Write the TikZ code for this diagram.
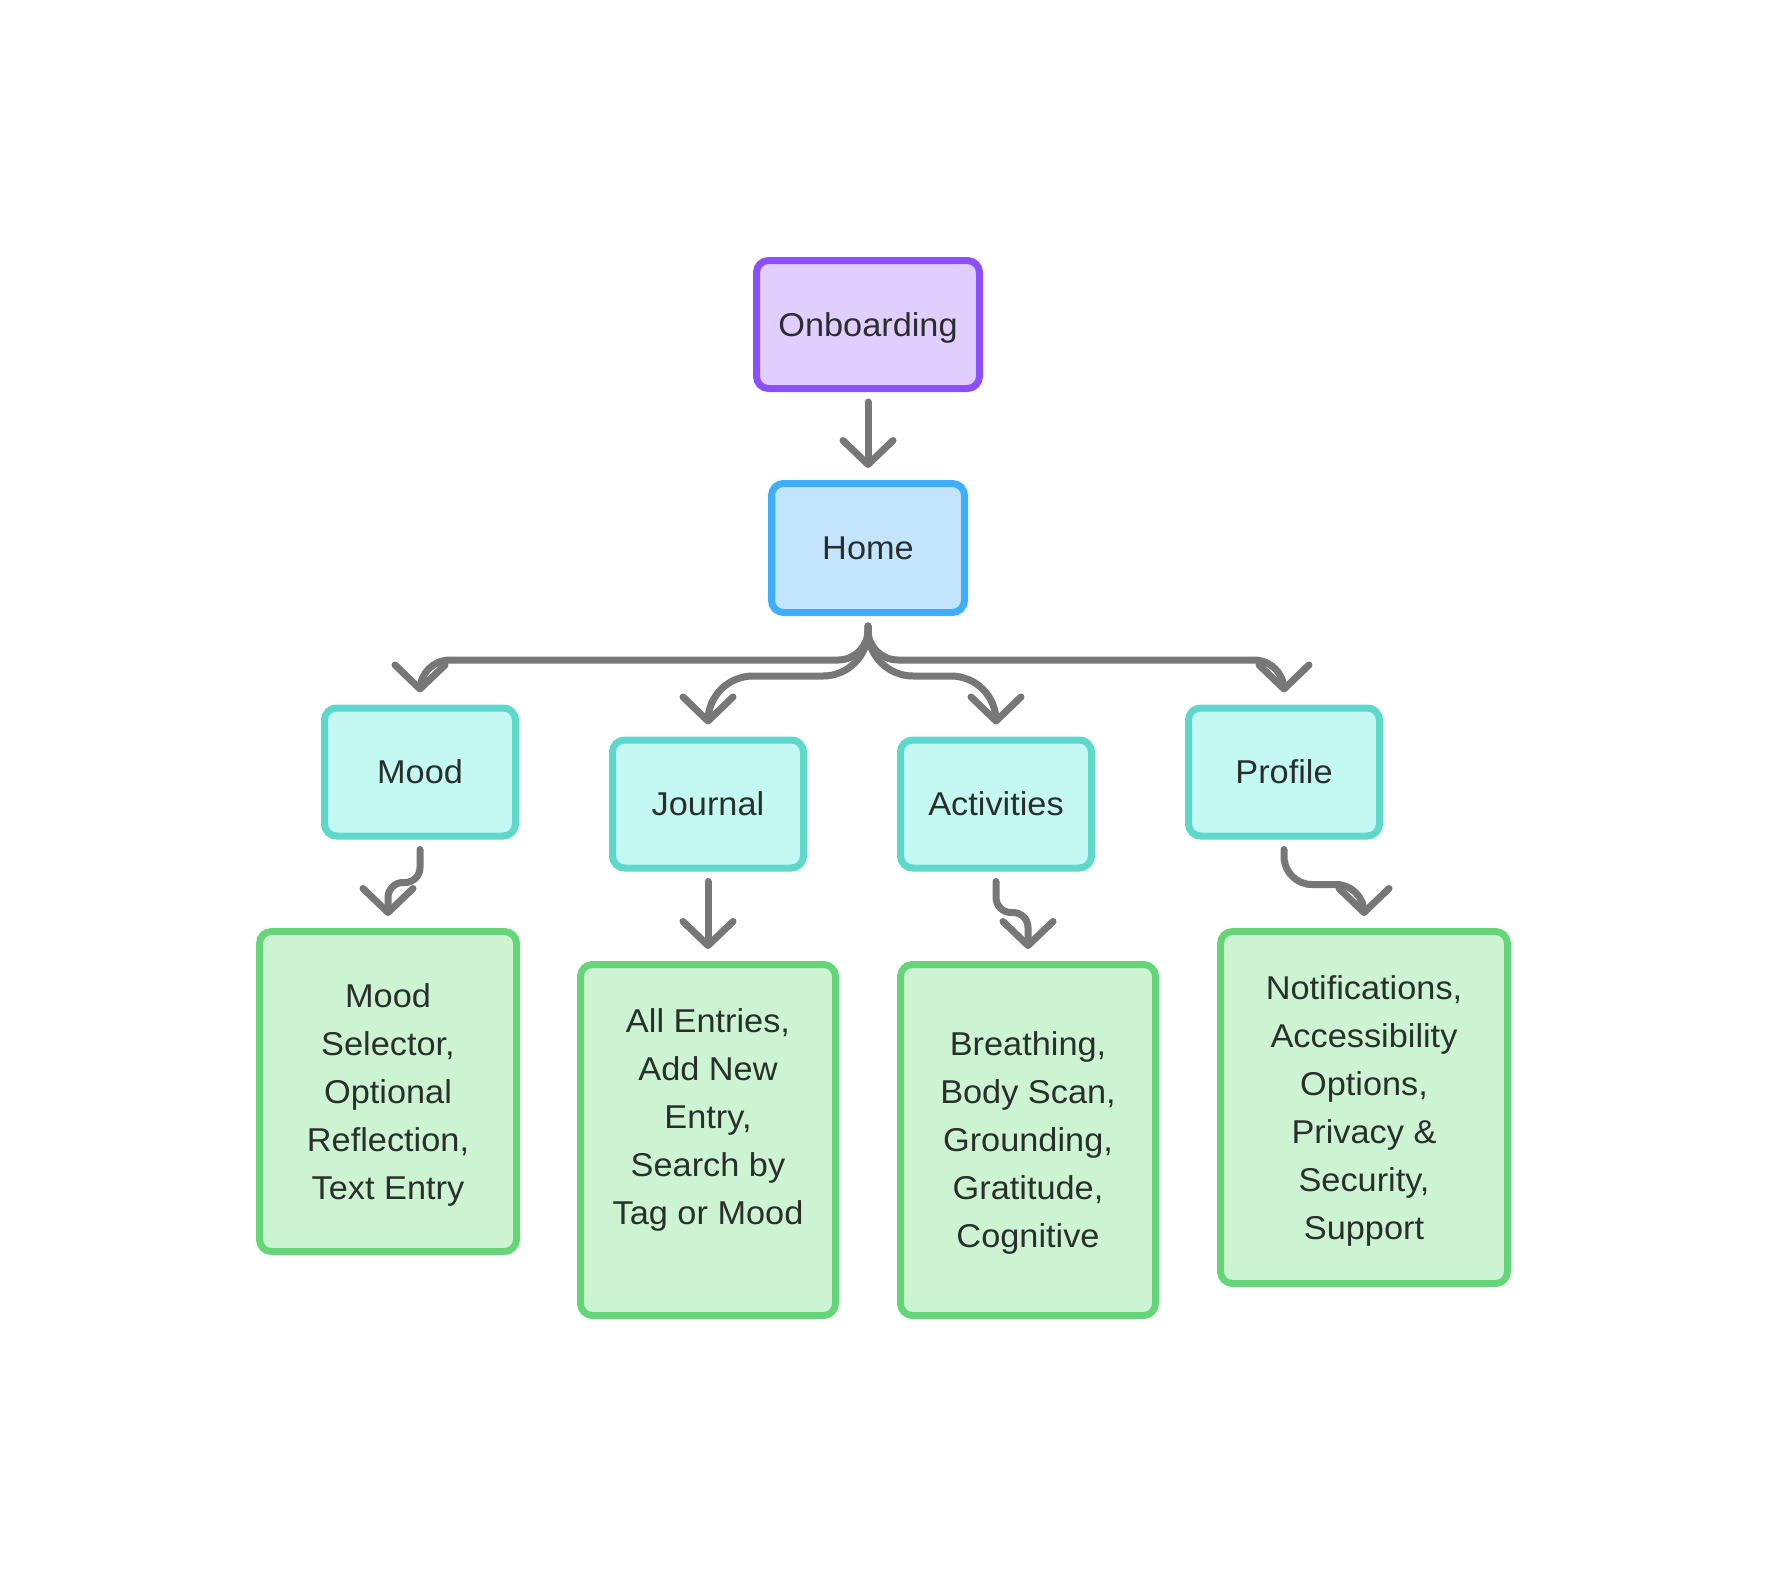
\documentclass[tikz,border=0pt]{standalone}
\usepackage{fontspec}
\setmainfont{Liberation Sans}[FakeStretch=1.04]
\usetikzlibrary{arrows.meta}

\definecolor{linkgray}{HTML}{777777}
\definecolor{txtdark}{HTML}{2B2F2B}
\definecolor{onbline}{HTML}{8B50FC}
\definecolor{onbfill}{HTML}{DFCEFF}
\definecolor{homeline}{HTML}{3EAEFB}
\definecolor{homefill}{HTML}{C2E4FD}
\definecolor{tabline}{HTML}{5DD8CB}
\definecolor{tabfill}{HTML}{C4F8F2}
\definecolor{featline}{HTML}{66D577}
\definecolor{featfill}{HTML}{CCF4D3}

\begin{document}
\begin{tikzpicture}[x=1pt, y=-1pt,
    label/.style={text=txtdark, font=\fontsize{33}{48}\selectfont, align=center,
        inner sep=0pt, text depth=0pt},
    screen/.style={label, rectangle, rounded corners=12pt, line width=7pt},
    onbbox/.style={screen, draw=onbline, fill=onbfill, minimum width=223pt, minimum height=128pt},
    homebox/.style={screen, draw=homeline, fill=homefill, minimum width=193pt, minimum height=129pt},
    tabbox/.style={screen, draw=tabline, fill=tabfill, minimum width=191pt, minimum height=128pt},
    featbox/.style={screen, draw=featline, fill=featfill, minimum width=255pt, minimum height=351pt},
    link/.style={draw=linkgray, line width=7pt, line cap=round,
        -{Straight Barb[length=24pt, width=50pt, round]}, shorten <=10pt, shorten >=12pt}
]
    % Page
    \fill[white] (0,0) rectangle (1768,1576);

    % Screens
    \node[onbbox] (onboarding) at (868,324.5) {Onboarding};
    \node[homebox] (home) at (868,548) {Home};

    \node[tabbox] (mood) at (420,772) {Mood};
    \node[tabbox] (journal) at (708,804) {Journal};
    \node[tabbox] (activities) at (996,804) {Activities};
    \node[tabbox] (profile) at (1284,772) {Profile};

    % Features
    \node[featbox, minimum width=257pt, minimum height=320pt] (moodfeat) at (388,1091.5)
        {Mood\\ Selector,\\ Optional\\ Reflection,\\ Text Entry};
    \node[featbox] (journalfeat) at (708,1140) {};
    \node[label] (journaltext) at (708,1117)
        {All Entries,\\ Add New\\ Entry,\\ Search by\\ Tag or Mood};
    \node[featbox] (activitiesfeat) at (1028,1140)
        {Breathing,\\ Body Scan,\\ Grounding,\\ Gratitude,\\ Cognitive};
    \node[featbox, minimum width=287pt, minimum height=352pt] (profilefeat) at (1364,1107.5)
        {Notifications,\\ Accessibility\\ Options,\\ Privacy \&\\ Security,\\ Support};

    % Arrows
    \draw[link] (onboarding.south) -- (home.north);

    \draw[link, rounded corners=30pt] (home.south) -- ++(0,44) -| (mood.north);
    \draw[link, rounded corners=45pt] (home.south) -- ++(0,60) -| (journal.north);
    \draw[link, rounded corners=45pt] (home.south) -- ++(0,60) -| (activities.north);
    \draw[link, rounded corners=30pt] (home.south) -- ++(0,44) -| (profile.north);

    \draw[link, rounded corners=15pt] (mood.south) -- ++(0,43) -| (moodfeat.north);
    \draw[link] (journal.south) -- (journalfeat.north);
    \draw[link, rounded corners=15pt] (activities.south) -- ++(0,41) -| (activitiesfeat.north);
    \draw[link, rounded corners=28pt] (profile.south) -- ++(0,45) -| (profilefeat.north);
\end{tikzpicture}
\end{document}
